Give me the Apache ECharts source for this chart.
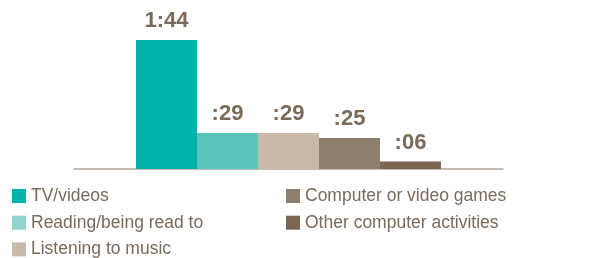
<!DOCTYPE html>
<html>
<head>
<meta charset="utf-8">
<script src="https://cdn.jsdelivr.net/npm/echarts@6/dist/echarts.min.js"></script>
<style>html,body{margin:0;padding:0;background:#fff;}#c{width:593px;height:258px;}</style>
</head>
<body>
<div id="c"></div>
<script>
// Minutes per day
var seriesNames = ['TV/videos', 'Reading/being read to', 'Listening to music', 'Computer or video games', 'Other computer activities'];
var minutes = [104, 29, 29, 25, 6];
var labels = ['1:44', ':29', ':29', ':25', ':06'];
var colors = ['#00b3aa', '#5cc3bb', '#c8b9ab', '#8d7f6e', '#7b6751'];
var legendColors = ['#00b3aa', '#92d4ce', '#c8b9ab', '#8d7f6e', '#7b6751'];

var chart = echarts.init(document.getElementById('c'), null, {renderer: 'canvas'});
var series = seriesNames.map(function (n, i) {
  return {
    name: n,
    type: 'bar',
    data: [minutes[i]],
    barWidth: 61,
    barGap: '0%',
    itemStyle: {color: colors[i]},
    label: {
      show: true,
      position: 'top',
      distance: 8,
      formatter: labels[i],
      color: '#7a6a58',
      fontFamily: 'Liberation Sans, Arial, sans-serif',
      fontWeight: 'bold',
      fontSize: 22
    }
  };
});
var legendItems = seriesNames.map(function (n, i) {
  return {name: n, itemStyle: {color: legendColors[i]}};
});
var legendText = {color: '#7a6a5a', fontFamily: 'Liberation Sans, Arial, sans-serif', fontSize: 17.5, lineHeight: 18};
chart.setOption({
  animation: false,
  grid: {left: 74, right: 90, top: 40, bottom: 89},
  xAxis: {
    type: 'category', data: [''],
    axisLine: {lineStyle: {color: '#b0a498', width: 1.5}},
    axisTick: {show: false}, axisLabel: {show: false}
  },
  yAxis: {type: 'value', min: 0, max: 104, show: false, splitLine: {show: false}},
  legend: [
    {data: legendItems.slice(0, 3), orient: 'vertical', left: 12, top: 187, height: 120, itemWidth: 14, itemHeight: 14, itemGap: 8.7, icon: 'rect', textStyle: legendText, padding: 0},
    {data: legendItems.slice(3), orient: 'vertical', left: 286, top: 187, height: 120, itemWidth: 14, itemHeight: 14, itemGap: 8.7, icon: 'rect', textStyle: legendText, padding: 0}
  ],
  series: series
});
</script>
</body>
</html>
